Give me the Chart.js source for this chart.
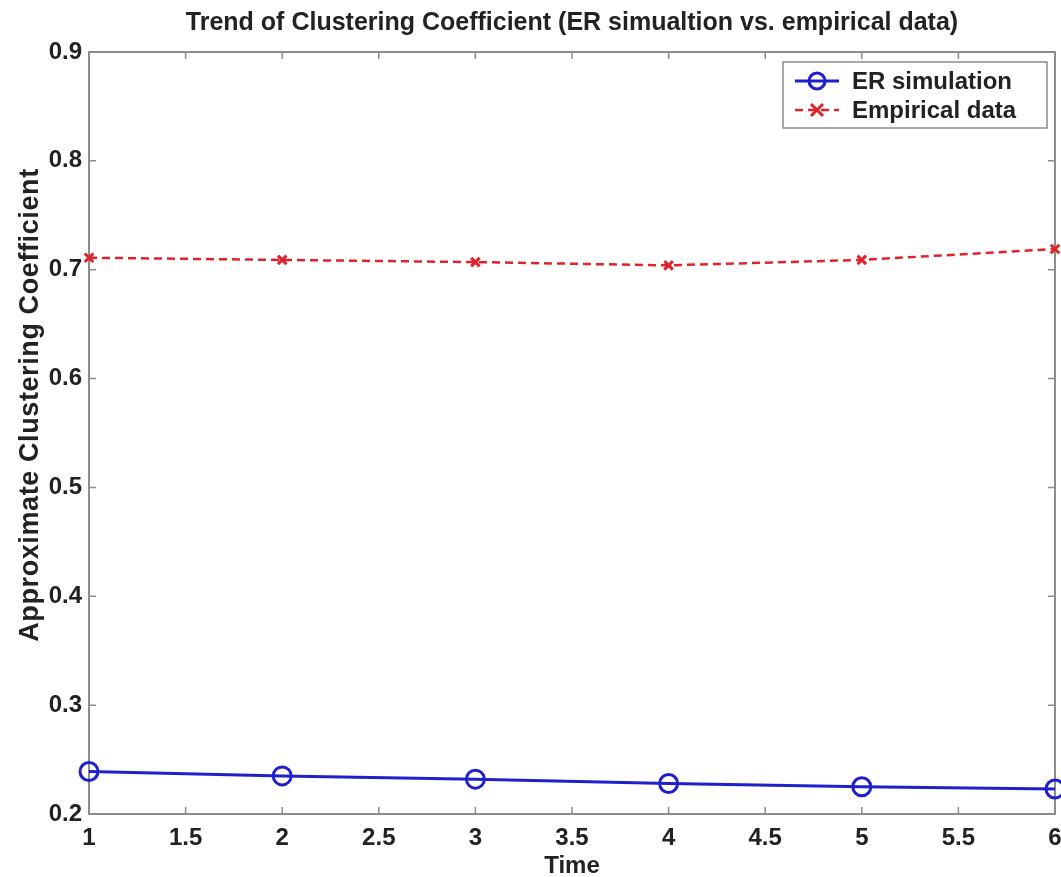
<!DOCTYPE html>
<html>
<head>
<meta charset="utf-8">
<script src="https://cdn.jsdelivr.net/npm/chart.js@4/dist/chart.umd.min.js"></script>
<style>
  html, body { margin: 0; padding: 0; background: #fff; }
  #wrap { width: 1061px; height: 877px; }
</style>
</head>
<body>
<div id="wrap"><canvas id="ccChart" width="1061" height="877"></canvas></div>
<script>
const timeSteps = [1, 2, 3, 4, 5, 6];
const erSimulation = [0.239, 0.235, 0.232, 0.228, 0.225, 0.223];
const empiricalData = [0.711, 0.709, 0.707, 0.704, 0.709, 0.719];
const xTicks = [1, 1.5, 2, 2.5, 3, 3.5, 4, 4.5, 5, 5.5, 6];
const yTicks = [0.2, 0.3, 0.4, 0.5, 0.6, 0.7, 0.8, 0.9];
const titleText = 'Trend of Clustering Coefficient (ER simualtion vs. empirical data)';
const yLabelText = 'Approximate Clustering Coefficient';

const FONT = '"Liberation Sans", Arial, Helvetica, sans-serif';
const AXIS_GREY = '#8c8c8c';
const TEXT = '#222';

// axes box, inward ticks, title, y label and legend drawn like a matlab figure
const matlabAxes = {
    id: 'matlabAxes',
    beforeDatasetsDraw(chart) {
        const { ctx, chartArea: a, scales: { x, y } } = chart;
        ctx.save();
        ctx.strokeStyle = AXIS_GREY;
        ctx.lineWidth = 2;
        ctx.strokeRect(a.left, a.top, a.right - a.left, a.bottom - a.top);
        ctx.lineWidth = 1.5;
        const len = 7;
        ctx.beginPath();
        xTicks.forEach(v => {
            const px = x.getPixelForValue(v);
            ctx.moveTo(px, a.bottom); ctx.lineTo(px, a.bottom - len);
            ctx.moveTo(px, a.top); ctx.lineTo(px, a.top + len);
        });
        yTicks.forEach(v => {
            const py = y.getPixelForValue(v);
            ctx.moveTo(a.left, py); ctx.lineTo(a.left + len, py);
            ctx.moveTo(a.right, py); ctx.lineTo(a.right - len, py);
        });
        ctx.stroke();
        ctx.restore();
    },
    afterDraw(chart) {
        const { ctx, chartArea: a } = chart;
        ctx.save();
        ctx.fillStyle = TEXT;
        ctx.font = 'bold 25px ' + FONT;
        ctx.textAlign = 'center';
        ctx.textBaseline = 'middle';
        ctx.fillText(titleText, (a.left + a.right) / 2, 23);

        // y axis label, sits a bit above the middle as in the original
        ctx.save();
        ctx.translate(31, 405);
        ctx.rotate(-Math.PI / 2);
        ctx.font = 'bold 27px ' + FONT;
        ctx.letterSpacing = '0.6px';
        ctx.fillText(yLabelText, 0, 0);
        ctx.restore();

        // legend
        const bx = 783, by = 62, bw = 264, bh = 66;
        ctx.fillStyle = '#fff';
        ctx.fillRect(bx, by, bw, bh);
        ctx.strokeStyle = AXIS_GREY;
        ctx.lineWidth = 1.5;
        ctx.strokeRect(bx, by, bw, bh);
        ctx.font = 'bold 24px ' + FONT;
        ctx.textAlign = 'left';
        chart.data.datasets.forEach((ds, i) => {
            const cy = by + 19 + i * 29;
            ctx.save();
            ctx.strokeStyle = ds.borderColor;
            ctx.lineWidth = ds.borderWidth;
            ctx.setLineDash(ds.borderDash || []);
            ctx.beginPath();
            ctx.moveTo(bx + 12, cy); ctx.lineTo(bx + 56, cy);
            ctx.stroke();
            ctx.setLineDash([]);
            ctx.lineWidth = ds.pointBorderWidth;
            ctx.beginPath();
            if (ds.pointStyle === 'circle') {
                ctx.arc(bx + 34, cy, ds.pointRadius - 1, 0, Math.PI * 2);
            } else {
                const r = ds.pointRadius;
                ctx.moveTo(bx + 34 - r, cy - r); ctx.lineTo(bx + 34 + r, cy + r);
                ctx.moveTo(bx + 34 + r, cy - r); ctx.lineTo(bx + 34 - r, cy + r);
            }
            ctx.stroke();
            ctx.restore();
            ctx.fillStyle = TEXT;
            ctx.fillText(ds.label, bx + 69, cy + 1);
        });
        ctx.restore();
    }
};

new Chart(document.getElementById('ccChart').getContext('2d'), {
    type: 'line',
    data: {
        datasets: [{
            label: 'ER simulation',
            data: timeSteps.map((t, i) => ({ x: t, y: erSimulation[i] })),
            borderColor: '#1f1fcc',
            backgroundColor: 'rgba(0,0,0,0)',
            borderWidth: 3,
            pointStyle: 'circle',
            pointRadius: 9,
            pointBorderWidth: 3,
            pointBackgroundColor: 'rgba(0,0,0,0)',
            pointBorderColor: '#1f1fcc',
            tension: 0,
            clip: false
        }, {
            label: 'Empirical data',
            data: timeSteps.map((t, i) => ({ x: t, y: empiricalData[i] })),
            borderColor: '#e0232b',
            backgroundColor: 'rgba(0,0,0,0)',
            borderWidth: 2.5,
            borderDash: [8, 5],
            pointStyle: 'crossRot',
            pointRadius: 6,
            pointBorderWidth: 3,
            pointBorderColor: '#e0232b',
            tension: 0,
            clip: false
        }]
    },
    options: {
        responsive: false,
        animation: false,
        layout: { autoPadding: false, padding: { top: 52, right: 6, left: 0, bottom: 0 } },
        plugins: {
            legend: { display: false },
            title: { display: false },
            tooltip: { enabled: false }
        },
        scales: {
            x: {
                type: 'linear',
                min: 1,
                max: 6,
                afterBuildTicks: s => { s.ticks = xTicks.map(v => ({ value: v })); },
                afterFit: s => { s.height = 63; s.paddingRight = 0; s.paddingLeft = 0; },
                grid: { display: false, drawTicks: false },
                border: { display: false },
                ticks: { color: TEXT, font: { size: 24, family: FONT, weight: 'bold' }, padding: 10, maxRotation: 0, autoSkip: false, callback: v => String(v) },
                title: { display: true, text: 'Time', color: TEXT, font: { size: 24, family: FONT, weight: 'bold' }, padding: { top: 0, bottom: -4 } }
            },
            y: {
                min: 0.2,
                max: 0.9,
                afterBuildTicks: s => { s.ticks = yTicks.map(v => ({ value: v })); },
                afterFit: s => { s.width = 89; },
                grid: { display: false, drawTicks: false },
                border: { display: false },
                ticks: { color: TEXT, font: { size: 24, family: FONT, weight: 'bold' }, padding: 7, callback: v => v.toFixed(1) }
            }
        }
    },
    plugins: [matlabAxes]
});
</script>
</body>
</html>
